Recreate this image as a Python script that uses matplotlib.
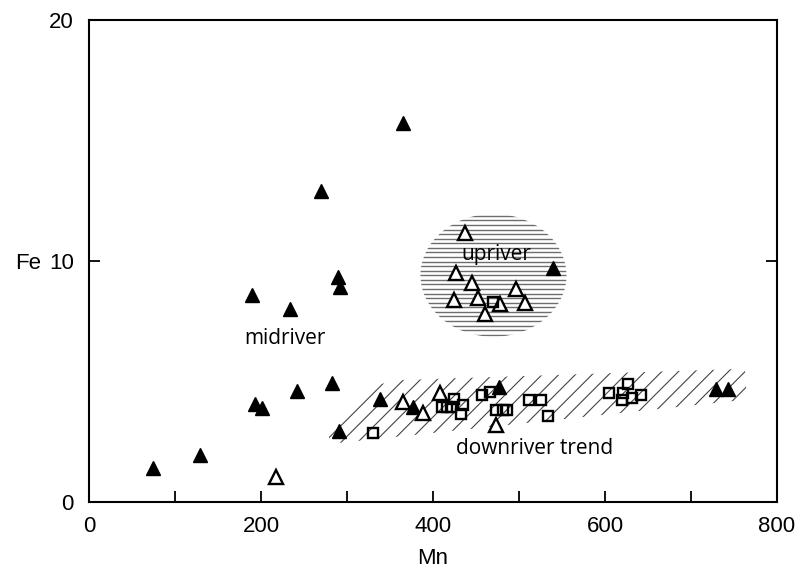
import numpy as np
import matplotlib.pyplot as plt
from matplotlib.patches import Ellipse, Polygon

# filled triangles
filled_mn = [74.5, 128.8, 192.8, 200.6, 189, 233.5, 269.5, 365, 290, 292.4,
             242.4, 282, 290.8, 338.1, 376.9, 476.9, 539.7, 729.6, 743.2]
filled_fe = [1.39, 1.94, 4.06, 3.88, 8.58, 7.99, 12.92, 15.73, 9.34, 8.90,
             4.60, 4.94, 2.95, 4.25, 3.92, 4.75, 9.69, 4.67, 4.67]

# open triangles
open_mn = [217.2, 365.2, 387.8, 407.9, 473, 437, 427.3, 444.8, 496.3, 424.5,
           452.4, 477.7, 506.7, 461]
open_fe = [1.03, 4.15, 3.67, 4.53, 3.19, 11.15, 9.51, 9.10, 8.82, 8.38,
           8.47, 8.20, 8.24, 7.79]

# open squares
sq_mn = [329.7, 410, 416, 421, 424, 434.3, 433.1, 456.4, 466, 473.8, 481.5,
         485.5, 470, 512, 526, 533.8, 604.8, 620.3, 621, 626.9, 630.8, 642.4]
sq_fe = [2.84, 3.95, 3.95, 3.95, 4.25, 4.02, 3.63, 4.43, 4.57, 3.81, 3.81,
         3.81, 8.31, 4.22, 4.22, 3.56, 4.50, 4.22, 4.50, 4.88, 4.32, 4.43]

# outline of the hatched downriver band
band_mn = [280, 277.7, 328.8, 361.4, 762.6, 764.9]
band_fe = [2.40, 3.06, 4.81, 5.05, 5.52, 4.24]

tick_font = ['Liberation Sans', 'DejaVu Sans']
note_font = ['Open Sans', 'DejaVu Sans']

fig = plt.figure(figsize=(7.99, 5.68), dpi=100)
ax = fig.add_axes([0.1114, 0.1167, 0.8611, 0.8481])
ax.set_xlim(0, 800)
ax.set_ylim(0, 20)

# upriver ellipse with horizontal lines
ell = Ellipse((470.3, 9.40), 169.8, 5.10, facecolor='none', edgecolor='none')
ax.add_patch(ell)
ys = np.arange(9.40 - 2.55 + 0.08, 9.40 + 2.55, 0.19)
lines = ax.hlines(ys, 380, 560, colors='#6e6e6e', linewidth=1.0, zorder=1)
lines.set_clip_path(ell)

# downriver band
plt.rcParams['hatch.linewidth'] = 0.8
band = Polygon(np.column_stack([band_mn, band_fe]), closed=True,
               facecolor='none', edgecolor='#444444', linewidth=0,
               hatch='//', zorder=1)
ax.add_patch(band)

ax.plot(filled_mn, filled_fe, '^', color='black', markersize=10.5,
        linestyle='none', zorder=3)
ax.plot(open_mn, open_fe, '^', markerfacecolor='white', markeredgecolor='black',
        markeredgewidth=1.7, markersize=9.5, linestyle='none', zorder=3)
ax.plot(sq_mn, sq_fe, 's', markerfacecolor='none', markeredgecolor='black',
        markeredgewidth=1.7, markersize=7.5, linestyle='none', zorder=3)

ax.text(227.7, 6.78, 'midriver', ha='center', va='center', fontsize=15,
        family=note_font)
ax.text(473.8, 10.25, 'upriver', ha='center', va='center', fontsize=15,
        family=note_font)
ax.text(518.4, 2.23, 'downriver trend', ha='center', va='center', fontsize=15,
        family=note_font)

for s in ax.spines.values():
    s.set_linewidth(1.5)

ax.set_xticks([0, 200, 400, 600, 800])
ax.set_xticks([100, 300, 500, 700], minor=True)
ax.set_yticks([0, 10, 20])
ax.tick_params(axis='x', which='both', direction='in', length=8, width=1.3,
               pad=10, labelsize=16)
ax.tick_params(axis='y', which='both', direction='in', length=8, width=1.3,
               pad=11, labelsize=16, right=True)
for lab in ax.get_xticklabels() + ax.get_yticklabels():
    lab.set_family(tick_font)

ax.set_xlabel('Mn', fontsize=16, family=tick_font, labelpad=8)
ax.set_ylabel('Fe', fontsize=16, family=tick_font, rotation=0,
              ha='center', va='center')
ax.yaxis.set_label_coords(-0.089, 0.4955)

fig.savefig('out.png', dpi=100)
